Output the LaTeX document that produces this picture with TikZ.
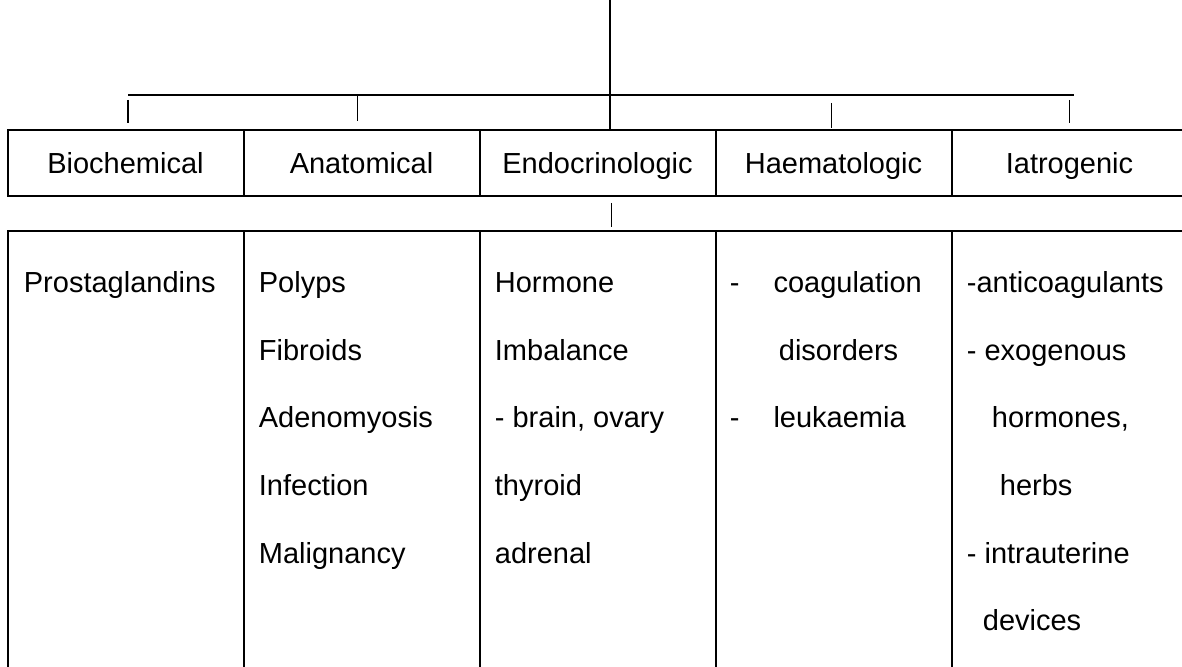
\documentclass[tikz,border=0pt]{standalone}
\usepackage{fontspec}
\setmainfont{Liberation Sans}
\usetikzlibrary{calc}

\tikzset{
  head/.style={draw, line width=1pt, outer sep=0pt, inner sep=0pt,
    minimum width=118pt, minimum height=33pt, text height=10.4pt, text depth=0pt},
  cell/.style={draw, line width=1pt, outer sep=0pt, inner sep=0pt,
    minimum width=118pt, minimum height=235pt},
  item/.style={anchor=base west, inner sep=0pt},
  link/.style={line width=0.6pt},
}

\begin{document}
\begin{tikzpicture}[
  x=0.5pt, y=-0.5pt,   % 1 unit = 1 px of the page, y downwards
  font=\fontsize{14.5}{17}\selectfont,
]
\useasboundingbox (0,0) rectangle (1182,667);

% ── Header row and list boxes ─────────────────────────────────────────────
\foreach \nm/\lbl [count=\i] in {bio/Biochemical, ana/Anatomical,
    endo/Endocrinologic, haem/Haematologic, iatro/Iatrogenic}{
  \node[head] (\nm) at ({125.5+236*(\i-1)}, 163) {\lbl};
  \node[cell] (\nm-list) at ({125.5+236*(\i-1)}, 466) {};
}

% ── Tree lines on top ─────────────────────────────────────────────────────
\coordinate (top)  at (610,0);
\coordinate (barL) at (128,95);
\coordinate (barR) at (1074,95);
\draw[link] (top) -- (top |- endo.north);
\draw[link] (barL) -- (barR);
\draw[link] ($(bio.north)+(2.5,-30)$) -- ++(0,23);
\draw[link] ($(ana.north)+(-4,-34)$) -- ++(0,25);
\draw[link] ($(haem.north)+(-2,-27)$) -- ++(0,25);
\draw[link] ($(iatro.north)+(0,-30)$) -- ++(0,23);
\draw[link] ($(endo.south)+(14,7)$) -- ++(0,24);

% ── Lists (dx / text, one line each) ──────────────────────────────────────
\node[item] (bio-1) at ($(bio-list.north west)+(16,62)$) {Prostaglandins};

\foreach \dx/\txt [count=\k] in {15/Polyps, 15/Fibroids, 15/Adenomyosis,
    15/Infection, 15/Malignancy}
  \node[item] (ana-\k) at ($(ana-list.north west)+(\dx,{62+67.5*(\k-1)})$) {\txt};

\foreach \dx/\txt [count=\k] in {15/Hormone, 15/Imbalance, 15/{- brain, ovary},
    15/thyroid, 15/adrenal}
  \node[item] (endo-\k) at ($(endo-list.north west)+(\dx,{62+67.5*(\k-1)})$) {\txt};

\foreach \dx/\txt [count=\k] in {14/{-\hspace{17pt}coagulation}, 63/disorders,
    14/{-\hspace{17pt}leukaemia}}
  \node[item] (haem-\k) at ($(haem-list.north west)+(\dx,{62+67.5*(\k-1)})$) {\txt};

\foreach \dx/\txt [count=\k] in {15/-anticoagulants, 15/- exogenous,
    40/{hormones,}, 48/herbs, 15/- intrauterine, 31/devices}
  \node[item] (iatro-\k) at ($(iatro-list.north west)+(\dx,{62+67.5*(\k-1)})$) {\txt};

\end{tikzpicture}
\end{document}
